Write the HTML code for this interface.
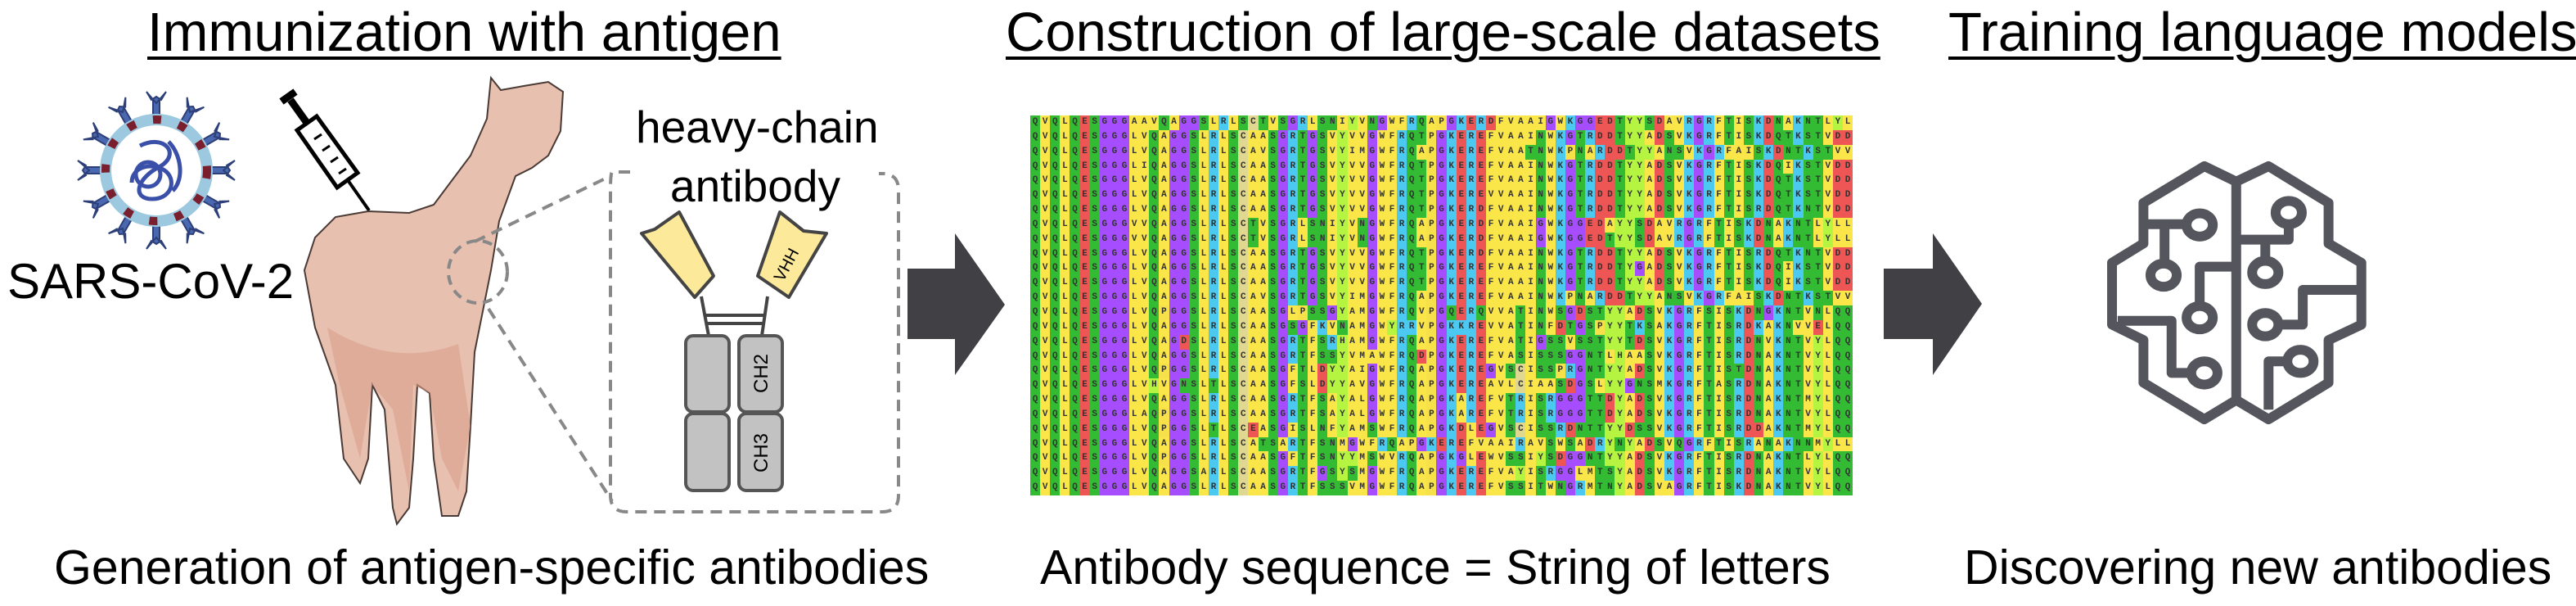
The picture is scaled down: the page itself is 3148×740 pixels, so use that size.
<!DOCTYPE html>
<html><head><meta charset="utf-8"><style>
body{margin:0;background:#fff;}
#c{position:relative;width:3148px;height:740px;overflow:hidden;font-family:"Liberation Sans",Arial,sans-serif;color:#000;}
.t{position:absolute;white-space:nowrap;line-height:1;}
.h{font-size:67px;text-decoration:underline;text-decoration-thickness:4px;text-underline-offset:7px;}
.cap{font-size:59px;}
#aln{position:absolute;left:1259px;top:141px;width:1006px;height:464px;overflow:hidden;font-family:"Liberation Mono",monospace;font-size:11px;font-weight:bold;color:#333;}
#aln div{height:17.85px;display:flex;}
#aln span{display:block;width:12.12px;flex:none;text-align:center;line-height:17.85px;}
</style></head><body><div id="c">
<div class="t h" style="left:180px;top:6px;">Immunization with antigen</div>
<div class="t h" style="left:1229px;top:6px;">Construction of large-scale datasets</div>
<div class="t h" style="left:2381px;top:6px;">Training language models</div>
<div class="t cap" style="left:66px;top:664px;">Generation of antigen-specific antibodies</div>
<div class="t cap" style="left:1271px;top:664px;">Antibody sequence = String of letters</div>
<div class="t cap" style="left:2400px;top:664px;">Discovering new antibodies</div>
<div class="t" style="left:9px;top:314px;font-size:60px;">SARS-CoV-2</div>
<div class="t" style="left:777px;top:128px;font-size:55px;">heavy-chain</div>
<div class="t" style="left:819px;top:200px;font-size:55px;">antibody</div>

<svg width="3148" height="740" style="position:absolute;left:0;top:0;">
<g transform="translate(191,208)">
 <g fill="#4a68b0" stroke="#2c3f78" stroke-width="2">
  <g id="sp"><rect x="-4" y="-86" width="8" height="22"/><path d="M-12,-96 L0,-82 L12,-96 L6,-86 L0,-90 L-6,-86Z"/></g>
  <use href="#sp" transform="rotate(30)"/><use href="#sp" transform="rotate(60)"/><use href="#sp" transform="rotate(90)"/>
  <use href="#sp" transform="rotate(120)"/><use href="#sp" transform="rotate(150)"/><use href="#sp" transform="rotate(180)"/>
  <use href="#sp" transform="rotate(210)"/><use href="#sp" transform="rotate(240)"/><use href="#sp" transform="rotate(270)"/>
  <use href="#sp" transform="rotate(300)"/><use href="#sp" transform="rotate(330)"/>
 </g>
 <circle r="62" fill="#fff" stroke="#9cc9df" stroke-width="14"/>
 <circle r="62" fill="none" stroke="#7a1f2e" stroke-width="10" stroke-dasharray="10 22"/>
 <path d="M-20,-30 C10,-45 30,-20 5,-5 C-25,10 -30,35 -5,35 C20,35 25,10 10,0 C-5,-10 -30,-5 -30,15 M15,-35 C30,-20 35,10 20,25" fill="none" stroke="#3a4fa8" stroke-width="5"/>
 <circle cx="-10" cy="5" r="15" fill="none" stroke="#3a4fa8" stroke-width="5"/>
</g>
<line x1="344" y1="124" x2="361" y2="112" stroke="#000" stroke-width="9"/>
<line x1="355" y1="122" x2="375" y2="150" stroke="#000" stroke-width="9"/>
<polygon points="363,159 387,142 437,211 412,229" fill="#fff" stroke="#000" stroke-width="5"/>
<g stroke="#000" stroke-width="3"><line x1="393" y1="164" x2="384" y2="170"/><line x1="403" y1="178" x2="394" y2="184"/><line x1="413" y1="192" x2="404" y2="198"/><line x1="423" y1="206" x2="414" y2="212"/></g>
<line x1="425" y1="220" x2="451" y2="257" stroke="#000" stroke-width="4"/>
<polygon points="600,95 612,110 640,105 670,100 688,112 685,160 670,190 650,205 630,215 610,270 600,330 590,380 580,430 575,520 570,600 560,630 540,630 530,560 525,480 510,470 505,560 500,620 485,640 480,620 470,500 455,470 450,560 440,590 420,560 410,470 385,400 372,330 385,290 410,265 450,258 500,260 530,250 545,230 575,190 595,145" fill="#e8c0b0" stroke="#4a3a35" stroke-width="2"/>
<path d="M400,400 Q480,450 560,420 L575,520 L560,600 L540,560 L525,480 L505,470 L500,600 L480,500 L455,470 L440,560 L415,470Z" fill="#d99f8a" opacity="0.6"/>
<ellipse cx="584" cy="332" rx="36" ry="38" fill="none" stroke="#888" stroke-width="4" stroke-dasharray="12 8"/>
<line x1="580" y1="295" x2="748" y2="214" stroke="#888" stroke-width="4" stroke-dasharray="14 9"/>
<line x1="597" y1="377" x2="748" y2="612" stroke="#888" stroke-width="4" stroke-dasharray="14 9"/>
<path d="M770,210 L748,210 Q746,212 746,232 L746,605 Q746,625 766,625 L1078,625 Q1098,625 1098,605 L1098,232 Q1098,212 1078,212 L1074,212" fill="none" stroke="#888" stroke-width="4" stroke-dasharray="14 9"/>
<polygon points="784,285 800,280 830,259 872,337 849,363" fill="#fde99a" stroke="#444" stroke-width="4" stroke-linejoin="round"/>
<polygon points="953,259 982,282 1010,285 964,363 926,337" fill="#fde99a" stroke="#444" stroke-width="4" stroke-linejoin="round"/>
<text x="0" y="0" font-size="20" font-family="Liberation Sans" transform="translate(957,345) rotate(-62)">VHH</text>
<g stroke="#444" stroke-width="4"><line x1="857" y1="362" x2="866" y2="410"/><line x1="938" y1="362" x2="931" y2="410"/><line x1="862" y1="385" x2="934" y2="385"/><line x1="862" y1="395" x2="934" y2="395"/></g>
<g fill="#c2c2c2" stroke="#555" stroke-width="4">
<rect x="838" y="410" width="53" height="93" rx="9"/><rect x="838" y="505" width="53" height="94" rx="9"/>
<rect x="903" y="410" width="53" height="93" rx="9"/><rect x="903" y="505" width="53" height="94" rx="9"/>
</g>
<text font-size="24" font-family="Liberation Sans" text-anchor="middle" transform="translate(938,456) rotate(-90)">CH2</text>
<text font-size="24" font-family="Liberation Sans" text-anchor="middle" transform="translate(938,553) rotate(-90)">CH3</text>
<polygon points="1109,328 1167,328 1167,285 1228,372 1167,458 1167,414 1109,414" fill="#414044"/>
<polygon points="2302,328 2362,328 2362,285 2422,371 2362,458 2362,414 2302,414" fill="#414044"/>
<svg x="2250" y="0" width="898" height="740" viewBox="0 0 1568 1568" preserveAspectRatio="none">
<g fill="none" stroke="#55565d" stroke-width="12" stroke-linejoin="round">
<path vector-effect="non-scaling-stroke" d="M843,470 L775,430 L645,525 L645,630 L578,680 L578,840 L645,880 L645,990 L775,1085 L843,1035 L912,1085 L1040,990 L1040,880 L1110,840 L1110,680 L1040,630 L1040,525 L912,430 Z M843,470 L843,1035"/>
<path vector-effect="non-scaling-stroke" d="M645,580 L735,580 M690,590 L690,680 M843,690 L765,690 L765,790 M590,830 L705,830 L705,965 L745,965 M843,620 L955,620 L955,580 M905,620 L905,675 M1110,750 L985,750 L985,840 L935,840 M912,1060 L912,935 L950,935"/>
<ellipse vector-effect="non-scaling-stroke" cx="765" cy="582" rx="28" ry="30"/>
<ellipse vector-effect="non-scaling-stroke" cx="688" cy="712" rx="28" ry="30"/>
<ellipse vector-effect="non-scaling-stroke" cx="765" cy="822" rx="28" ry="30"/>
<ellipse vector-effect="non-scaling-stroke" cx="775" cy="965" rx="28" ry="30"/>
<ellipse vector-effect="non-scaling-stroke" cx="955" cy="550" rx="28" ry="30"/>
<ellipse vector-effect="non-scaling-stroke" cx="905" cy="705" rx="28" ry="30"/>
<ellipse vector-effect="non-scaling-stroke" cx="905" cy="840" rx="28" ry="30"/>
<ellipse vector-effect="non-scaling-stroke" cx="980" cy="935" rx="28" ry="30"/>
</g></svg>
</svg>

<div id="aln">
<div>QVQLQESGGGAAVQAGGSLRLSCTVSGRLSNIYVNGWFRQAPGKERDFVAAIGWKGGEDTYYSDAVRGRFTISKDNAKNTLYL</div>
<div>QVQLQESGGGLVQAGGSLRLSCAASGRTGSVYVVGWFRQTPGKEREFVAAINWKGTRDDTYYADSVKGRFTISKDQTKSTVD</div>
<div>QVQLQESGGGLVQAGGSLRLSCAVSGRTGSVYIMGWFRQAPGKEREFVAATNWKPNARDDTYYANSVKGRFAISKDNTKSTV</div>
<div>QVQLQESGGGLIQAGGSLRLSCAASGRTGSVYVVGWFRQTPGKEREFVAAINWKGTRDDTYYADSVKGRFTISKDQIKSTVD</div>
<div>QVQLQESGGGLVQAGGSLRLSCAASGRTGSVYVVGWFRQTPGKEREFVAAINWKGTRDDTYYADSVKGRFTISKDQTKSTVD</div>
<div>QVQLQESGGGLVQAGGSLRLSCAASGRTGSVYVVGWFRQTPGKEREVVAAINWKGTRDDTYYADSVKGRFTISKDQTKSTVD</div>
<div>QVQLQESGGGLVQAGGSLRLSCAASGRTGSVYVVGWFRQTPGKERDFVAAINWKGTRDDTYYADSVKGRFTISRDQTKNTVD</div>
<div>QVQLQESGGGVVQAGGSLRLSCTVSGRLSNIYVNGWFRQAPGKERDFVAAIGWKGGEDAYYSDAVRGRFTISKDNAKNTLYL</div>
<div>QVQLQESGGGVVQAGGSLRLSCTVSGRLSNIYVNGWFRQAPGKERDFVAAIGWKGGEDTYYSDAVRGRFTISKDNAKNTLYL</div>
<div>QVQLQESGGGLVQAGGSLRLSCAASGRTGSVYVVGWFRQTPGKERDFVAAINWKGTRDDTYYADSVKGRFTISRDQTKNTVD</div>
<div>QVQLQESGGGLVQAGGSLRLSCAASGRTGSVYVVGWFRQTPGKEREFVAAINWKGTRDDTYGADSVKGRFTISKDQIKSTVD</div>
<div>QVQLQESGGGLVQAGGSLRLSCAASGRTGSVYVVGWFRQTPGKEREFVAAINWKGTRDDTYYADSVKGRFTISKDQIKSTVD</div>
<div>QVQLQESGGGLVQAGGSLRLSCAVSGRTGSVYIMGWFRQAPGKEREFVAAINWKPNARDDTYYANSVKGRFAISKDNTKSTV</div>
<div>QVQLQESGGGLVQPGGSLRLSCAASGLPSSGYAMGWFRQVPGQERQVVATINWSGDSTYYADSVKGRFSISKDNGKNTVNLQ</div>
<div>QVQLQESGGGLVQAGGSLRLSCAASGSGFKVNAMGWYRRVPGKKREVVATINFDTGSPYYTKSAKGRFTISRDKAKNVVELQ</div>
<div>QVQLQESGGGLVQAGDSLRLSCAASGRTFSRHAMGWFRQAPGKEREFVATIGSSVSSTYYTDSVKGRFTISRDNVKNTVYLQ</div>
<div>QVQLQESGGGLVQAGGSLRLSCAASGRTFSSYVMAWFRQDPGKEREFVASISSSGGNTLHAASVKGRFTISRDNAKNTVYLQ</div>
<div>QVQLQESGGGLVQPGGSLRLSCAASGFTLDYYAIGWFRQAPGKEREGVSCISSPRGNTYYADSVKGRFTISTDNAKNTVYLQ</div>
<div>QVQLQESGGGLVHVGNSLTLSCAASGFSLDYYAVGWFRQAPGKEREAVLCIAASDGSLYYGNSMKGRFTASRDNAKNTVYLQ</div>
<div>QVQLQESGGGLVQAGGSLRLSCAASGRTFSAYALGWFRQAPGKAREFVTRISRGGGTTDYADSVKGRFTISRDNAKNTMYLQ</div>
<div>QVQLQESGGGLAQPGGSLRLSCAASGRTFSAYALGWFRQAPGKAREFVTRISRGGGTTDYADSVKGRFTISRDNAKNTVYLQ</div>
<div>QVQLQESGGGLVQPGGSLTLSCEASGISLNFYAMSWFRQAPGKDLEGVSCISSRDNTTYYDSSVKGRFTISRDDAKNTMYLQ</div>
<div>QVQLQESGGGLVQAGGSLRLSCATSARTFSNMGWFRQAPGKEREFVAAIRAVSWSADRYNYADSVQGRFTISRANAKNNMYL</div>
<div>QVQLQESGGGLVQPGGSLRLSCAASGFTFSNYYMSWVRQAPGKGLEWVSSIYSDGGNTYYADSVKGRFTISRDNAKNTLYLQ</div>
<div>QVQLQESGGGLVQAGGSARLSCAASGRTFGSYSMGWFRQAPGKEREFVAYISRGGLMTSYADSVKGRFTISRDNAKNTVYLQ</div>
<div>QVQLQESGGGLVQAGGSLRLSCAASGRTFSSSVMGWFRQAPGKEREFVSSITWNGRMTNYADSVAGRFTISKDNAKNTVYLQ</div>
</div>
</div>
<script>
var col={G:'#a64dff',S:'#33bb33',T:'#33bb33',N:'#33bb33',Q:'#33bb33',D:'#ee5555',E:'#ee5555',K:'#4cc9f0',R:'#4cc9f0',H:'#b5f542',Y:'#b5f542',C:'#e0d890',P:'#f7e14a'};
document.querySelectorAll('#aln div').forEach(function(d){
 var s=d.textContent.trim();while(s.length<83)s+=s[s.length-1];s=s.slice(0,83);
 d.innerHTML=s.split('').map(function(ch){return '<span style="background:'+(col[ch]||'#fbe64a')+'">'+ch+'</span>';}).join('');
});
</script>
</body></html>
